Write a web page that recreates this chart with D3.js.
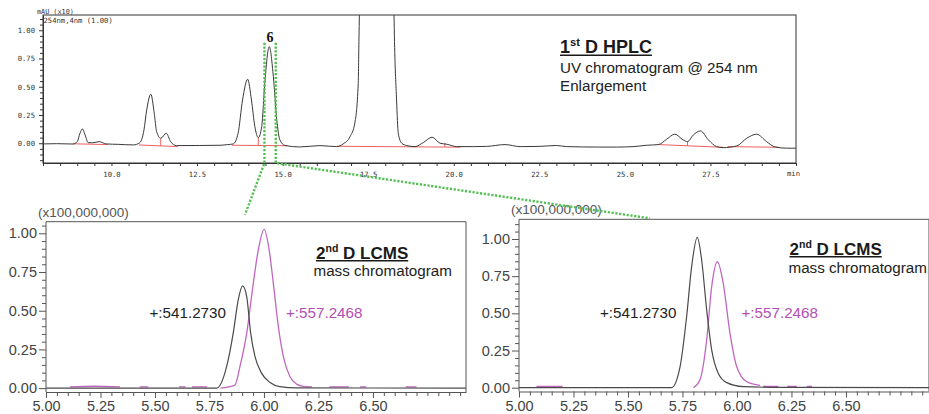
<!DOCTYPE html>
<html><head><meta charset="utf-8">
<script src="https://cdn.jsdelivr.net/npm/d3@7"></script>
<style>body{margin:0;background:#fff}svg{display:block}</style>
</head><body>
<svg id="c" width="929" height="414"></svg>
<script>
// ---------- DATA ----------
// 1st D HPLC UV chromatogram (time in min, signal in mAU x10)
const topTime = [8.00,8.40,8.88,9.00,9.08,9.15,9.23,9.32,9.45,9.64,9.85,10.2,10.64,10.83,10.95,11.03,11.15,11.25,11.32,11.44,11.60,11.73,11.90,12.58,13.17,13.40,13.56,13.70,13.83,13.98,14.09,14.19,14.29,14.39,14.48,14.61,14.73,14.83,14.92,15.07,15.50,16.09,16.58,16.77,16.97,17.11,17.21,17.23,17.26,17.40,17.75,18.10,18.24,18.27,18.33,18.38,18.48,18.62,18.87,19.11,19.37,19.60,19.80,20.09,20.57,20.96,21.50,21.94,22.50,23.00,23.30,24.27,24.76,25.24,25.64,25.98,26.22,26.46,26.70,26.83,27.00,27.21,27.44,27.68,27.87,28.27,28.56,28.85,29.14,29.39,29.73,30.00];
const topSignal = [-0.006,-0.004,-0.007,0.014,0.088,0.127,0.073,0.005,0.004,0.014,-0.006,-0.010,-0.015,0.005,0.118,0.295,0.434,0.265,0.103,0.044,0.088,0.014,-0.021,-0.020,-0.018,-0.012,-0.006,0.088,0.383,0.566,0.383,0.147,0.050,0.147,0.531,0.855,0.590,0.206,0.030,-0.020,-0.033,-0.021,-0.030,-0.006,0.058,0.177,0.530,0.900,1.400,2.400,3.000,2.400,1.400,0.900,0.383,0.088,0.000,-0.020,-0.030,0.006,0.053,0.000,-0.009,-0.030,-0.030,-0.028,-0.012,-0.030,-0.028,-0.020,-0.030,-0.034,-0.034,-0.030,-0.018,-0.012,0.035,0.080,0.030,0.014,0.073,0.109,0.030,-0.030,-0.039,-0.024,0.044,0.080,0.014,-0.033,-0.044,-0.044];
// integration baselines (start time, start value, end time, end value)
const baseStartT = [8.88, 10.80, 13.52, 16.58, 25.98, 28.00];
const baseStartV = [-0.005, -0.015, -0.018, -0.027, -0.012, -0.030];
const baseEndT   = [9.90, 11.94, 15.14, 20.20, 27.87, 29.50];
const baseEndV   = [-0.012, -0.030, -0.022, -0.035, -0.036, -0.036];
const dropT   = [11.44, 14.29, 19.74, 26.83];
const dropTop = [0.044, 0.050, 0.002, 0.014];
const topXLabels = [10.0, 12.5, 15.0, 17.5, 20.0, 22.5, 25.0, 27.5];
const topYLabels = [0.00, 0.25, 0.50, 0.75, 1.00];
const peakLabel = "6", peakLabelT = 14.63, peakLabelV = 0.90;
const fractionT = [14.47, 14.80];   // heart-cut window

// 2nd D LCMS, left panel (time min, intensity x100,000,000)
const leftBlackT = [5.00,5.70,5.783,5.829,5.859,5.882,5.902,5.921,5.939,5.959,5.989,6.028,6.073,6.15,6.927];
const leftBlackV = [0,0,0,0.14,0.355,0.57,0.66,0.59,0.355,0.204,0.097,0.036,0.01,0.002,0];
const leftMagT = [5.11,5.22,5.34,null,5.43,5.47,null,5.61,5.64,null,5.67,5.74,null,5.80,5.867,5.89,5.921,5.951,5.974,6.001,6.024,6.043,6.066,6.089,6.119,6.15,6.18,6.22,null,6.30,6.39,null,6.44,6.47,null,6.65,6.70];
const leftMagV = [0.008,0.012,0.008,null,0.008,0.008,null,0.008,0.008,null,0.008,0.008,null,0,0.02,0.14,0.355,0.677,0.892,1.026,0.892,0.677,0.397,0.204,0.075,0.026,0.012,0.008,null,0.008,0.008,null,0.008,0.008,null,0.008,0.008];
// right panel
const rightBlackT = [5.00,5.65,5.70,5.739,5.769,5.792,5.818,5.838,5.861,5.884,5.914,5.953,6.029,6.20,6.881];
const rightBlackV = [0,0,0,0.141,0.477,0.814,1.011,0.859,0.523,0.254,0.097,0.034,0.007,0.002,0];
const rightMagT = [5.08,5.20,null,5.80,5.83,5.861,5.884,5.91,5.937,5.968,5.999,6.045,6.106,null,6.12,6.19,null,6.23,6.275,null,6.32,6.344];
const rightMagV = [0.008,0.008,null,0,0.052,0.321,0.679,0.847,0.702,0.366,0.141,0.04,0.016,null,0.008,0.008,null,0.008,0.008,null,0.008,0.008];
const lcXLabels = [5.00,5.25,5.50,5.75,6.00,6.25,6.50];
const lcYLabels = [0.00,0.25,0.50,0.75,1.00];
const ionBlack = "+:541.2730", ionMagenta = "+:557.2468";

// ---------- DRAW ----------
const svg = d3.select("#c");
const FONT = "'Liberation Sans', Arial, sans-serif";
const MONO = "'DejaVu Sans Mono', monospace";
const traceCol = "#3a3a3a", magCol = "#c066c0", magText = "#b24fb2", green = "#55bf55", red = "#f06060";

// ===== top chart =====
const xTop = d3.scaleLinear().domain([8, 30]).range([43, 796]);
const yTop = d3.scaleLinear().domain([-0.175, 1.135]).range([163, 15]);
const gT = svg.append("g");
svg.append("clipPath").attr("id","clipTop").append("rect")
  .attr("x", xTop.range()[0]).attr("y", yTop.range()[1])
  .attr("width", xTop.range()[1]-xTop.range()[0]).attr("height", yTop.range()[0]-yTop.range()[1]);

gT.append("rect").attr("x", xTop(8)).attr("y", yTop(1.135))
  .attr("width", xTop(30)-xTop(8)).attr("height", yTop(-0.175)-yTop(1.135))
  .attr("fill","none").attr("stroke","#333").attr("stroke-width",1);

const plotT = gT.append("g").attr("clip-path","url(#clipTop)");
baseStartT.forEach((t0,i)=>{
  plotT.append("line").attr("x1",xTop(t0)).attr("y1",yTop(baseStartV[i]))
    .attr("x2",xTop(baseEndT[i])).attr("y2",yTop(baseEndV[i]))
    .attr("stroke",red).attr("stroke-width",1);
});
dropT.forEach((t,i)=>{
  const k = baseStartT.findIndex((s,j)=> t>=s && t<=baseEndT[j]);
  const bv = baseStartV[k] + (baseEndV[k]-baseStartV[k])*(t-baseStartT[k])/(baseEndT[k]-baseStartT[k]);
  plotT.append("line").attr("x1",xTop(t)).attr("x2",xTop(t))
    .attr("y1",yTop(bv)).attr("y2",yTop(dropTop[i]))
    .attr("stroke",red).attr("stroke-width",1);
});
const topPts = topTime.map((t,i)=>[t, topSignal[i]]);
plotT.append("path").datum(topPts)
  .attr("d", d3.line().x(d=>xTop(d[0])).y(d=>yTop(d[1])).curve(d3.curveMonotoneX))
  .attr("fill","none").attr("stroke",traceCol).attr("stroke-width",1);

const topXTicks = d3.range(0, 45).map(i => 8 + i*0.5);
const axTX = gT.append("g").attr("transform",`translate(0,${yTop(-0.175)})`)
  .call(d3.axisBottom(xTop).tickValues(topXTicks).tickSizeInner(3).tickSizeOuter(0)
    .tickFormat(d => topXLabels.some(l=>Math.abs(l-d)<1e-6) ? d3.format(".1f")(d) : ""));
const topYTicks = d3.range(0, 26).map(i => -0.15 + i*0.05);
const axTY = gT.append("g").attr("transform",`translate(${xTop(8)},0)`)
  .call(d3.axisLeft(yTop).tickValues(topYTicks).tickSizeInner(3).tickSizeOuter(0)
    .tickFormat(d => topYLabels.some(l=>Math.abs(l-d)<1e-6) ? d3.format(".2f")(d) : ""));
[axTX, axTY].forEach(a=>{
  a.selectAll("path,line").attr("stroke","#333");
  a.selectAll("text").attr("font-family",MONO).attr("font-size","7.2px").attr("fill","#333");
});
axTX.selectAll("text").attr("dy","1.1em");
axTY.selectAll("text").attr("x",-8);
axTY.selectAll(".tick").filter(d => topYLabels.some(l=>Math.abs(l-d)<1e-6)).select("line").attr("x2",-4);
gT.append("text").attr("x", xTop(30)-9).attr("y", yTop(-0.175)+13).text("min")
  .attr("font-family",MONO).attr("font-size","7.2px").attr("fill","#333");
gT.append("text").attr("x", 37).attr("y", 14).text("mAU (x10)")
  .attr("font-family",MONO).attr("font-size","6.8px").attr("fill","#333");
gT.append("text").attr("x", 43.5).attr("y", 22.5).text("254nm,4nm (1.00)")
  .attr("font-family",MONO).attr("font-size","7.2px").attr("fill","#333");
gT.append("text").attr("x", xTop(peakLabelT)).attr("y", yTop(peakLabelV)).attr("text-anchor","middle")
  .text(peakLabel).attr("font-family","'Liberation Serif', serif").attr("font-weight","bold")
  .attr("font-size","14px").attr("fill","#111");

function heading(x, y, main, sup, rest, size){
  const t = svg.append("text").attr("x",x).attr("y",y).attr("font-family",FONT)
    .attr("font-weight","bold").attr("font-size",size+"px").attr("fill","#1a1a1a");
  t.append("tspan").text(main);
  t.append("tspan").text(sup).attr("font-size",(size*0.62)+"px").attr("dy",-size*0.4);
  t.append("tspan").text(rest).attr("dy",size*0.4);
  const w = t.node().getComputedTextLength();
  svg.append("line").attr("x1",x).attr("x2",x+w).attr("y1",y+2.3).attr("y2",y+2.3)
    .attr("stroke","#1a1a1a").attr("stroke-width",1.6);
}
function plain(x, y, s, size, col){
  svg.append("text").attr("x",x).attr("y",y).text(s).attr("font-family",FONT)
    .attr("font-size",size+"px").attr("fill",col||"#222");
}
heading(560, 53, "1", "st", " D HPLC", 18);
plain(560, 73, "UV chromatogram @ 254 nm", 15.2);
plain(560, 90.5, "Enlargement", 15.2);

// ===== LCMS panels =====
function lcPanel(x0, x1, tMax, yBot, yTopPx, vMin, vMax, blackT, blackV, magT, magV, txt){
  const x = d3.scaleLinear().domain([5, tMax]).range([x0, x1]);
  const y = d3.scaleLinear().domain([vMin, vMax]).range([yBot, yTopPx]);
  const g = svg.append("g");
  g.append("path").attr("d",`M${x(5)},${y(vMax)}H${x(tMax)}V${y(vMin)}`)
    .attr("fill","none").attr("stroke","#555").attr("stroke-width",1);
  const cid = "clip"+Math.round(x0);
  svg.append("clipPath").attr("id",cid).append("rect")
    .attr("x",x(5)).attr("y",y(vMax)).attr("width",x(tMax)-x(5)).attr("height",y(vMin)-y(vMax));
  const pg = g.append("g").attr("clip-path",`url(#${cid})`);
  const magPts = magT.map((t,i)=>[t, magV[i]]);
  pg.append("path").datum(magPts)
    .attr("d", d3.line().defined(d=>d[0]!==null && d[1]!==null).x(d=>x(d[0])).y(d=>y(d[1])).curve(d3.curveMonotoneX))
    .attr("fill","none").attr("stroke",magCol).attr("stroke-width",1.3);
  const blkPts = blackT.map((t,i)=>[t, blackV[i]]);
  pg.append("path").datum(blkPts)
    .attr("d", d3.line().x(d=>x(d[0])).y(d=>y(d[1])).curve(d3.curveMonotoneX))
    .attr("fill","none").attr("stroke","#4a4a4a").attr("stroke-width",1.2);
  const xt = d3.range(0, 60).map(i => +(5 + i*0.05).toFixed(2)).filter(v => v <= tMax + 1e-9);
  const isXL = d => lcXLabels.some(l=>Math.abs(l-d)<1e-6);
  const ax = g.append("g").attr("transform",`translate(0,${y(vMin)})`)
    .call(d3.axisBottom(x).tickValues(xt).tickSizeInner(4).tickSizeOuter(0)
      .tickFormat(d => isXL(d) ? d3.format(".2f")(d) : ""));
  ax.selectAll(".tick").filter(isXL).select("line").attr("y2",6);
  const yt = d3.range(0, 30).map(i => +(i*0.05).toFixed(2)).filter(v => v <= vMax - 0.01);
  const isYL = d => lcYLabels.some(l=>Math.abs(l-d)<1e-6);
  const ay = g.append("g").attr("transform",`translate(${x(5)},0)`)
    .call(d3.axisLeft(y).tickValues(yt).tickSizeInner(4).tickSizeOuter(0)
      .tickFormat(d => isYL(d) ? d3.format(".2f")(d) : ""));
  ay.selectAll(".tick").filter(isYL).select("line").attr("x2",-7);
  ay.select(".domain").attr("d",`M0,${y(vMax)}V${y(vMin)}`);
  [ax, ay].forEach(a=>{
    a.selectAll("path,line").attr("stroke","#555");
    a.selectAll("text").attr("font-family",FONT).attr("font-size","14.5px").attr("fill","#444");
  });
  ax.selectAll("text").attr("y",0).attr("dy",0)
    .attr("transform",`translate(0,${410.5 - y(vMin)})`);
  ay.selectAll("text").attr("x",-9);
  svg.append("text").attr("x",x(5)-8).attr("y",y(vMax)-5).text("(x100,000,000)")
    .attr("font-family",FONT).attr("font-size","13.5px").attr("fill","#555");
  heading(txt.hx, txt.hy, "2", "nd", " D LCMS", 17);
  plain(txt.mx, txt.my, "mass chromatogram", 15.2);
  plain(txt.bx, txt.iy, ionBlack, 15.2, "#222");
  plain(txt.px, txt.iy, ionMagenta, 15.2, magText);
  return {x, y};
}
const L = lcPanel(46, 466, 6.927, 392, 221.7, -0.025, 1.075, leftBlackT, leftBlackV, leftMagT, leftMagV,
  {hx:316, hy:258.5, mx:313.5, my:275.5, bx:149.5, px:286, iy:318});
const R = lcPanel(519, 929, 6.881, 391.5, 219.3, -0.0256, 1.1325, rightBlackT, rightBlackV, rightMagT, rightMagV,
  {hx:789.5, hy:254.5, mx:788.5, my:272.5, bx:600, px:741.5, iy:318});

// ===== green heart-cut markers =====
const gG = svg.append("g").attr("fill","none").attr("stroke",green).attr("stroke-width",2.4)
  .attr("stroke-dasharray","2.2,1.6");
const yCutTop = yTop(0.89), yCutBot = yTop(-0.175);
gG.append("path").attr("d",`M${xTop(fractionT[0])},${yCutTop}V${yCutBot}L${L.x(5.913)},${L.y(1.075)-7}`);
gG.append("path").attr("d",`M${xTop(fractionT[1])},${yCutTop}V${yCutBot}L${R.x(5.60)},${R.y(1.1325)-1}`);
</script>
</body></html>
